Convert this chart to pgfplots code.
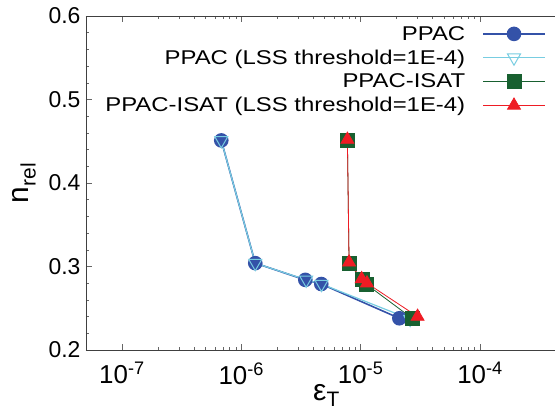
\documentclass[border=0pt]{standalone}
\usepackage{fontspec}
\setmainfont{Liberation Sans}
\newfontfamily\legfont[FakeStretch=1.2]{Liberation Sans}
\usepackage{pgfplots}
\pgfplotsset{compat=1.18}
\definecolor{cppac}{RGB}{52,82,168}
\definecolor{clss}{RGB}{120,205,225}
\definecolor{cisat}{RGB}{24,96,48}
\definecolor{cred}{RGB}{238,28,36}
\begin{document}
\begin{tikzpicture}
\begin{axis}[
  name=ax,
  scale only axis,
  width=469bp, height=334bp,
  xmode=log,
  xmin=5e-8, xmax=4.25e-4,
  ymin=0.2, ymax=0.6,
  axis x line=box,
  axis y line=left,
  axis line style={-, line width=0.9pt, black!75},
  tick style={black!60, line width=0.5pt},
  tick align=inside,
  major tick length=6bp,
  minor tick length=3bp,
  xtick={1e-7,1e-6,1e-5,1e-4},
  xticklabels={10\textsuperscript{-7},10\textsuperscript{-6},10\textsuperscript{-5},10\textsuperscript{-4}},
  ytick={0.2,0.3,0.4,0.5,0.6},
  yticklabels={0.2,0.3,0.4,0.5,0.6},
  minor y tick num=4,
  x tick label style={font=\fontsize{26}{28}\selectfont, yshift=-9bp},
  y tick label style={font=\fontsize{23}{26}\selectfont, xshift=-2bp},
  xlabel={ε\textsubscript{T}},
  ylabel={n\textsubscript{rel}},
  xlabel style={font=\fontsize{30}{32}\selectfont, yshift=7bp, xshift=6bp},
  ylabel style={font=\fontsize{30}{32}\selectfont, yshift=6bp},
  legend cell align=right,
  legend plot pos=right,
  legend style={draw=none, fill=none, at={(1,1)}, anchor=north east, xshift=-6bp, yshift=-6bp,
    font=\legfont\fontsize{20}{24}\selectfont, row sep=4.2bp, column sep=15bp},
  legend image code/.code={\draw[mark repeat=2,mark phase=2,#1] plot coordinates {(0bp,0bp) (31bp,0bp) (62bp,0bp)};},
]
\addplot[color=cppac, line width=1.6pt, mark=*, mark size=6.5bp, mark options={fill=cppac, draw=cppac}]
coordinates {(6.8e-7,0.451) (1.31e-6,0.304) (3.44e-6,0.284) (4.68e-6,0.279) (2.11e-5,0.238)};
\addlegendentry{PPAC}
\addplot[color=clss, line width=1.2pt, mark=triangle, mark size=7.5bp, mark options={rotate=180, draw=clss, fill=none, line width=1pt}]
coordinates {(6.8e-7,0.451) (1.31e-6,0.304) (3.5e-6,0.284) (4.7e-6,0.279) (2.6e-5,0.237)};
\addlegendentry{PPAC (LSS threshold=1E-4)}
\addplot[color=cisat, line width=0.8pt, mark=square*, mark size=7bp, mark options={fill=cisat, draw=cisat}]
coordinates {(7.75e-6,0.451) (8.0e-6,0.304) (1.03e-5,0.284) (1.11e-5,0.279) (2.7e-5,0.238)};
\addlegendentry{PPAC-ISAT}
\addplot[color=cred, line width=0.8pt, mark=triangle*, mark size=7.5bp, mark options={fill=cred, draw=cred}]
coordinates {(7.75e-6,0.452) (8.0e-6,0.305) (1.02e-5,0.285) (1.13e-5,0.280) (3.0e-5,0.240)};
\addlegendentry{PPAC-ISAT (LSS threshold=1E-4)}
\end{axis}
\pgfresetboundingbox
\path ([xshift=-86bp,yshift=-58bp]ax.south west) rectangle ([yshift=16bp]ax.north east);
\end{tikzpicture}
\end{document}
